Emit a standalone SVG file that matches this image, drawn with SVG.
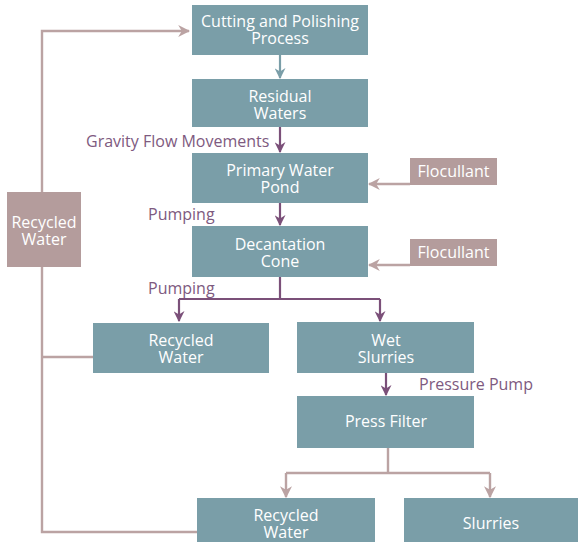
<svg xmlns="http://www.w3.org/2000/svg" width="578" height="542" viewBox="0 0 578 542">
<defs>
<style>
.box{fill:#7a9ea8}
.mbox{fill:#b49c9c}
.bt{font-family:"Open Sans","Noto Sans",sans-serif;font-size:16px;fill:#ffffff;text-anchor:middle}
.lbl{font-family:"Open Sans","Noto Sans",sans-serif;font-size:16px;fill:#7e5a80}
.pl{fill:none;stroke:#7b5079;stroke-width:2.2}
.ml{fill:none;stroke:#bba3a3;stroke-width:2.4}
.tl{fill:none;stroke:#7a9ea8;stroke-width:2.2}
</style>
<marker id="ap" viewBox="0 0 10 10" refX="9" refY="5" markerWidth="5" markerHeight="5" orient="auto"><path d="M0,0 L10,5 L0,10 L3,5 Z" fill="#7b5079"/></marker>
<marker id="am" viewBox="0 0 10 10" refX="9" refY="5" markerWidth="5" markerHeight="5" orient="auto"><path d="M0,0 L10,5 L0,10 L3,5 Z" fill="#bba3a3"/></marker>
<marker id="at" viewBox="0 0 10 10" refX="9" refY="5" markerWidth="5" markerHeight="5" orient="auto"><path d="M0,0 L10,5 L0,10 L3,5 Z" fill="#7a9ea8"/></marker>
</defs>
<rect width="578" height="542" fill="#ffffff"/>
<g id="connectors">
<path class="ml" d="M197,532 H42 V31 H189" marker-end="url(#am)"/>
<path class="ml" d="M93,357 H42"/>
<path class="tl" d="M280,55 V78" marker-end="url(#at)"/>
<path class="pl" d="M280,127 V152" marker-end="url(#ap)"/>
<path class="pl" d="M280,203 V225" marker-end="url(#ap)"/>
<path class="pl" d="M280,277 V299 M179,299 H380"/>
<path class="pl" d="M179,299 V321" marker-end="url(#ap)"/>
<path class="pl" d="M380,299 V321" marker-end="url(#ap)"/>
<path class="pl" d="M386,373 V395" marker-end="url(#ap)"/>
<path class="ml" d="M410,184 H369" marker-end="url(#am)"/>
<path class="ml" d="M410,265 H369" marker-end="url(#am)"/>
<path class="ml" d="M388,448 V473 M286,473 H490"/>
<path class="ml" d="M286,473 V497" marker-end="url(#am)"/>
<path class="ml" d="M490,473 V497" marker-end="url(#am)"/>
</g>
<g id="n-cutting"><rect class="box" x="192" y="5" width="176" height="50"/><text class="bt" x="280" y="27">Cutting and Polishing</text><text class="bt" x="280" y="44">Process</text></g>
<g id="n-residual"><rect class="box" x="192" y="79" width="176" height="48"/><text class="bt" x="280" y="102">Residual</text><text class="bt" x="280" y="119">Waters</text></g>
<g id="n-pond"><rect class="box" x="192" y="153" width="176" height="50"/><text class="bt" x="280" y="176">Primary Water</text><text class="bt" x="280" y="193">Pond</text></g>
<g id="n-cone"><rect class="box" x="192" y="226" width="176" height="51"/><text class="bt" x="280" y="250">Decantation</text><text class="bt" x="280" y="267">Cone</text></g>
<g id="n-floc1"><rect class="mbox" x="410" y="158" width="87" height="27"/><text class="bt" x="453.5" y="177">Flocullant</text></g>
<g id="n-floc2"><rect class="mbox" x="410" y="239" width="87" height="27"/><text class="bt" x="453.5" y="258">Flocullant</text></g>
<g id="n-recycled-left"><rect class="mbox" x="7" y="192" width="74" height="75"/><text class="bt" x="44" y="228">Recycled</text><text class="bt" x="44" y="245">Water</text></g>
<g id="n-recycled-mid"><rect class="box" x="93" y="323" width="176" height="50"/><text class="bt" x="181" y="346">Recycled</text><text class="bt" x="181" y="363">Water</text></g>
<g id="n-wet"><rect class="box" x="297" y="322" width="177" height="51"/><text class="bt" x="386" y="346">Wet</text><text class="bt" x="386" y="363">Slurries</text></g>
<g id="n-press"><rect class="box" x="297" y="396" width="177" height="52"/><text class="bt" x="386" y="427">Press Filter</text></g>
<g id="n-recycled-bottom"><rect class="box" x="197" y="498" width="178" height="50"/><text class="bt" x="286" y="521">Recycled</text><text class="bt" x="286" y="538">Water</text></g>
<g id="n-slurries"><rect class="box" x="404" y="498" width="180" height="50"/><text class="bt" x="491" y="529">Slurries</text></g>
<g id="labels">
<text class="lbl" x="86" y="147">Gravity Flow Movements</text>
<text class="lbl" x="148" y="220">Pumping</text>
<text class="lbl" x="148" y="294">Pumping</text>
<text class="lbl" x="419" y="390">Pressure Pump</text>
</g>
</svg>
